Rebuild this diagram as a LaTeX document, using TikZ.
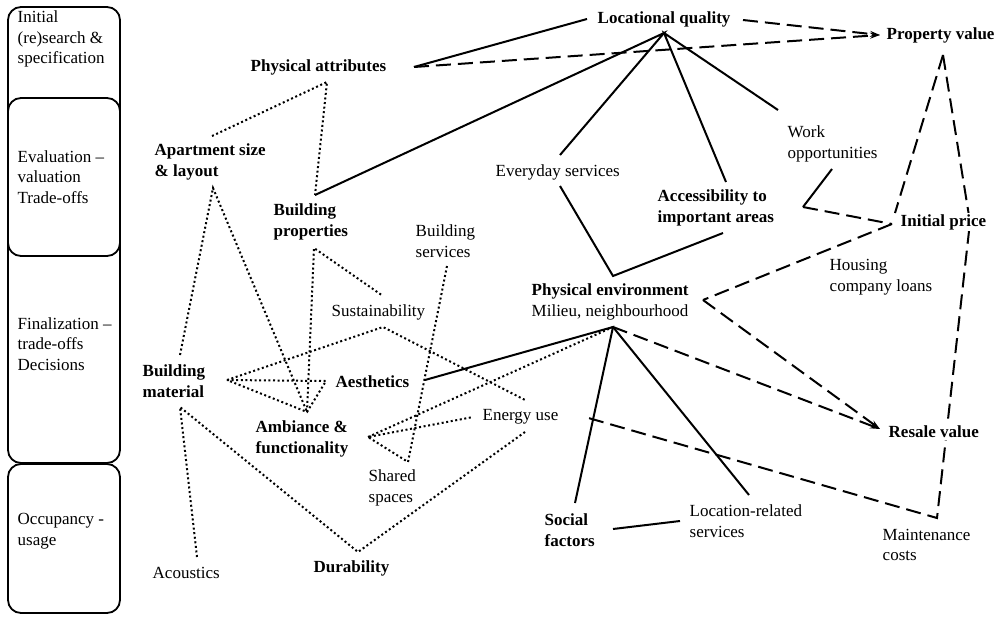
\documentclass[tikz,border=0pt]{standalone}
\usepackage{fontspec}
\setmainfont{Liberation Serif}
\usetikzlibrary{arrows.meta,backgrounds}

\tikzset{
  lbl/.style={anchor=west, align=left, inner sep=1.5pt, fill=white,
    font=\fontsize{17}{20.5}\selectfont},
  blbl/.style={lbl, font=\fontsize{17}{20.5}\selectfont\bfseries},
  phlbl/.style={lbl, fill=none},
  solidl/.style={line width=2pt},
  dashl/.style={line width=2pt, dash pattern=on 15pt off 7pt},
  dotl/.style={line width=2pt, dash pattern=on 2pt off 2.6pt},
  phase/.style={draw, line width=1.8pt, rounded corners=13pt, fill=white},
  tip/.style={-{Stealth[length=10pt,width=6pt]}}
}

\begin{document}
\begin{tikzpicture}[x=1pt,y=-1pt]
  \useasboundingbox (0,0) rectangle (1001,616);

  % phases on the left
  \draw[phase] (8,7) rectangle (120,150);
  \draw[line width=1.8pt] (8,19) -- (8,100);
  \draw[phase] (8,200) rectangle (120,463);
  \draw[phase] (8,98) rectangle (120,256);
  \draw[phase] (8,464) rectangle (120,613);
  \node[phlbl] (ph1) at (16,39) {Initial\\(re)search \&\\specification};
  \node[phlbl] (ph2) at (16,177) {Evaluation –\\valuation\\Trade-offs};
  \node[phlbl] (ph3) at (16,344) {Finalization –\\trade-offs\\Decisions};
  \node[phlbl] (ph4) at (16,531) {Occupancy -\\usage};

  % factors
  \node[blbl] (loc) at (596,19) {Locational quality};
  \node[blbl] (pv) at (885,35) {Property value};
  \node[blbl] (pa) at (249,67) {Physical attributes};
  \node[blbl] (apt) at (153,162) {Apartment size\\\& layout};
  \node[blbl] (bp) at (272,222) {Building\\properties};
  \node[lbl] (bs) at (414,241) {Building\\services};
  \node[lbl] (es) at (494,172) {Everyday services};
  \node[blbl] (acc) at (656,208) {Accessibility to\\important areas};
  \node[lbl] (wo) at (786,144) {Work\\opportunities};
  \node[blbl] (ip) at (899,222) {Initial price};
  \node[lbl] (hl) at (828,277) {Housing\\company loans};
  \node[lbl] (pe) at (530,302) {\textbf{Physical environment}\\Milieu, neighbourhood};
  \node[lbl] (sus) at (330,312) {Sustainability};
  \node[blbl] (bm) at (141,381) {Building\\material};
  \node[blbl] (aes) at (334,382) {Aesthetics};
  \node[blbl] (amb) at (254,439) {Ambiance \&\\functionality};
  \node[lbl] (eu) at (481,417) {Energy use};
  \node[lbl] (ss) at (367,488) {Shared\\spaces};
  \node[blbl] (rv) at (887,432) {Resale value};
  \node[blbl] (sf) at (543,530) {Social\\factors};
  \node[lbl] (lrs) at (688,521) {Location-related\\services};
  \node[lbl] (mc) at (881,545) {Maintenance\\costs};
  \node[lbl] (aco) at (151,573) {Acoustics};
  \node[blbl] (dur) at (312,568) {Durability};

  % line ends
  \coordinate (loc-w) at (587,19);
  \coordinate (loc-s) at (664,33);
  \coordinate (loc-e) at (743,20);
  \coordinate (pv-w) at (880,35);
  \coordinate (pv-s) at (943,55);
  \coordinate (pa-e) at (414,67);
  \coordinate (pa-s) at (327,82);
  \coordinate (apt-n) at (212,136);
  \coordinate (apt-s) at (213,188);
  \coordinate (bp-n) at (315,195);
  \coordinate (bp-s) at (314,248);
  \coordinate (bs-s) at (447,266);
  \coordinate (es-n) at (560,155);
  \coordinate (es-s) at (560,186);
  \coordinate (acc-n) at (726,182);
  \coordinate (acc-s) at (723,233);
  \coordinate (wo-n) at (778,110);
  \coordinate (wo-s) at (832,169);
  \coordinate (wo-b) at (803,207);
  \coordinate (ip-nw) at (895,213);
  \coordinate (ip-w) at (892,224);
  \coordinate (ip-c) at (970,222);
  \coordinate (pe-n) at (613,276);
  \coordinate (pe-s) at (613,327);
  \coordinate (pe-e) at (703,300);
  \coordinate (rv-w) at (880,429);
  \coordinate (sus-n) at (383,296);
  \coordinate (sus-s) at (383,327);
  \coordinate (bm-n) at (180,355);
  \coordinate (bm-e) at (227,380);
  \coordinate (bm-s) at (180,407);
  \coordinate (aes-w) at (326,381);
  \coordinate (aes-e) at (425,380);
  \coordinate (amb-n) at (307,412);
  \coordinate (amb-e) at (368,437);
  \coordinate (eu-w) at (473,417);
  \coordinate (eu-n) at (525,400);
  \coordinate (eu-s) at (525,432);
  \coordinate (eu-e) at (585,417);
  \coordinate (ss-n) at (408,462);
  \coordinate (sf-n) at (575,503);
  \coordinate (sf-e) at (613,529);
  \coordinate (lrs-n) at (749,495);
  \coordinate (lrs-w) at (680,521);
  \coordinate (mc-n) at (937,518);
  \coordinate (aco-n) at (197,557);
  \coordinate (dur-n) at (358,552);

  \begin{pgfonlayer}{background}
    % location and value
    \draw[solidl] (pa-e) -- (loc-w);
    \draw[dashl,tip] (pa-e) -- (pv-w);
    \draw[dashl,tip] (loc-e) -- (pv-w);
    \draw[solidl] (bp-n) -- (loc-s) -- (es-n);
    \draw[solidl] (acc-n) -- (loc-s) -- (wo-n);
    \draw[solidl] (es-s) -- (pe-n) -- (acc-s);
    \draw[solidl] (wo-s) -- (wo-b);
    \draw[dashl] (wo-b) -- (ip-w);
    \draw[dashl] (pv-s) -- (ip-nw);
    \draw[dashl] (pv-s) -- (ip-c) -- (mc-n) -- (eu-e);
    \draw[dashl] (ip-w) -- (pe-e);
    \draw[dashl,tip] (pe-e) -- (rv-w);
    \draw[dashl,tip] (pe-s) -- (rv-w);
    \draw[solidl] (aes-e) -- (pe-s) -- (sf-n);
    \draw[solidl] (pe-s) -- (lrs-n);
    \draw[solidl] (sf-e) -- (lrs-w);
    % physical attributes
    \draw[dotl] (apt-n) -- (pa-s) -- (bp-n);
    \draw[dotl] (bm-n) -- (apt-s) -- (amb-n);
    \draw[dotl] (amb-n) -- (bp-s) -- (sus-n);
    \draw[dotl] (bs-s) -- (ss-n) -- (amb-e) -- (eu-w);
    \draw[dotl] (amb-e) -- (pe-s);
    \draw[dotl] (bm-e) -- (sus-s) -- (eu-n);
    \draw[dotl] (bm-e) -- (aes-w) -- (amb-n) -- cycle;
    \draw[dotl] (aco-n) -- (bm-s) -- (dur-n) -- (eu-s);
  \end{pgfonlayer}
\end{tikzpicture}
\end{document}
